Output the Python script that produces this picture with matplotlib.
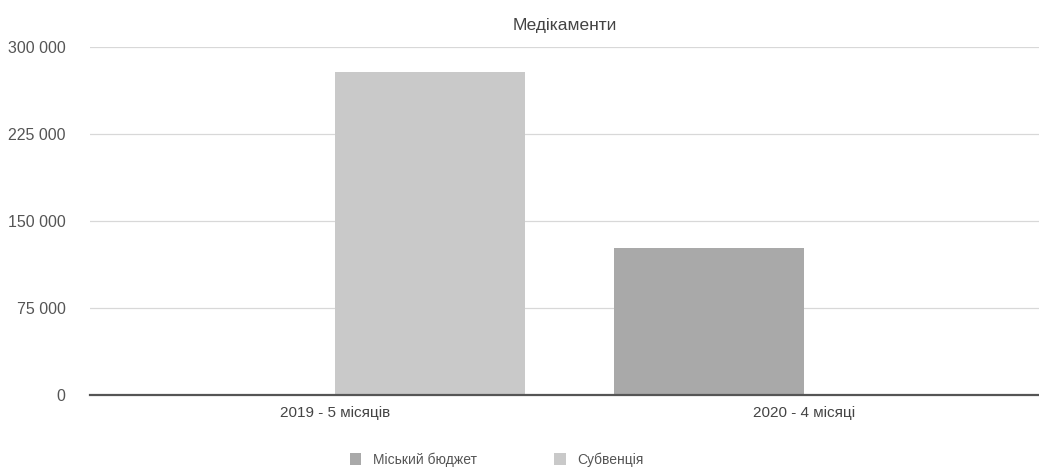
import matplotlib
matplotlib.use("Agg")
import matplotlib.pyplot as plt
import numpy as np

plt.rcParams['font.family'] = ['Liberation Sans', 'DejaVu Sans']

# data
categories = ["2019 - 5 місяців", "2020 - 4 місяці"]
series_names = ["Міський бюджет", "Субвенція"]
miskyi_budget = [0, 127000]
subventsiia = [278000, 0]
y_ticks = [0, 75000, 150000, 225000, 300000]

colors = ["#a9a9a9", "#c9c9c9"]

fig = plt.figure(figsize=(10.39, 4.69), dpi=100)
ax = fig.add_axes([0.087, 0.158, 0.913, 0.742])

x = np.arange(len(categories))
w = 0.405
ax.bar(x - w / 2, miskyi_budget, width=w, color=colors[0], label=series_names[0], zorder=2)
ax.bar(x + w / 2, subventsiia, width=w, color=colors[1], label=series_names[1], zorder=2)

ax.set_xlim(-0.52, 1.5)
ax.set_ylim(0, 300000)
ax.set_yticks(y_ticks)
ax.set_yticklabels([f"{v:,}".replace(",", " ") for v in y_ticks])
ax.set_xticks(x)
ax.set_xticklabels(categories)

ax.tick_params(axis='y', length=0, pad=18, labelsize=11.5, labelcolor="#555555")
ax.tick_params(axis='x', length=0, pad=8, labelsize=11, labelcolor="#444444")

ax.grid(axis='y', color="#d8d8d8", linewidth=0.9, zorder=0)
ax.grid(axis='x', visible=False)
for s in ["top", "right", "left"]:
    ax.spines[s].set_visible(False)
ax.spines["bottom"].set_color("#555555")
ax.spines["bottom"].set_linewidth(1.6)
ax.spines["bottom"].set_zorder(3)

ax.set_title("Медікаменти", fontsize=12.5, color="#444444", pad=12)

fig.legend(loc='center', bbox_to_anchor=(0.478, 0.02), ncol=2, frameon=False,
           handlelength=0.85, handleheight=0.85, columnspacing=5.6, fontsize=10,
           labelcolor="#555555", handletextpad=0.8)

fig.savefig("out.png", dpi=100, facecolor="white")
